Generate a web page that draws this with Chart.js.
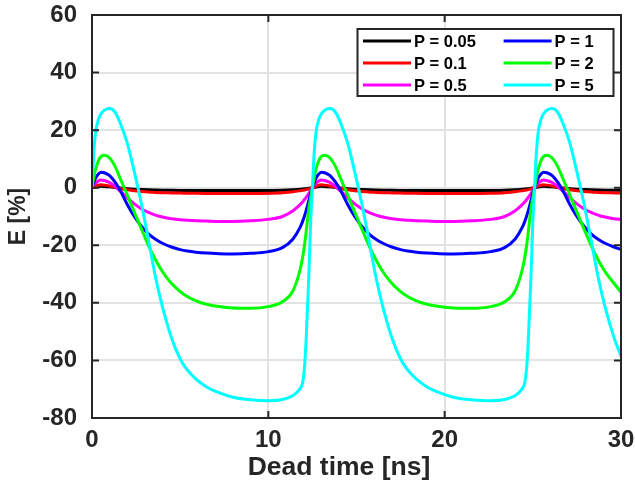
<!DOCTYPE html>
<html><head><meta charset="utf-8">
<script src="https://cdn.jsdelivr.net/npm/chart.js@4.4.1/dist/chart.umd.min.js"></script>
<style>html,body{margin:0;padding:0;background:#fff;}canvas{display:block;}</style>
</head><body>
<canvas id="c" width="635" height="489"></canvas>
<script>
// Dead time [ns]
const deadTime = [
  0, 0.1, 0.2, 0.35, 0.5, 0.7, 1.0, 1.3, 1.6, 2.0, 2.4, 2.8, 3.2, 3.6, 4.0, 4.5, 5.0, 5.4, 5.9, 6.5, 7.2, 8.0, 9.0, 10.0, 10.8, 11.4, 11.8, 11.95, 12.05, 12.15, 12.3, 12.4,
  12.5, 12.6, 12.7, 12.85, 13.0, 13.2, 13.5, 13.8, 14.1, 14.5, 14.9, 15.3, 15.7, 16.1, 16.5, 17.0, 17.5, 17.9, 18.4, 19.0, 19.7, 20.5, 21.5, 22.6, 23.4, 24.0, 24.4, 24.55, 24.65, 24.75, 24.9, 25.0,
  25.1, 25.2, 25.3, 25.45, 25.6, 25.8, 26.1, 26.4, 26.7, 27.1, 27.5, 27.9, 28.3, 28.7, 29.1, 29.6, 30
];
// E [%] for each P
const eP005 = [
  0, 0.15, 0.28, 0.42, 0.5, 0.45, 0.3, 0.1, -0.12, -0.35, -0.52, -0.65, -0.75, -0.81, -0.86, -0.9, -0.93, -0.95, -0.97, -0.99, -1.0, -1.0, -1.0, -0.95, -0.86, -0.7, -0.52, -0.45, -0.39, -0.32, -0.2, -0.1,
  0, 0.15, 0.28, 0.42, 0.5, 0.45, 0.3, 0.1, -0.12, -0.35, -0.52, -0.65, -0.75, -0.81, -0.86, -0.9, -0.93, -0.95, -0.97, -0.99, -1.0, -1.0, -1.0, -0.95, -0.86, -0.7, -0.52, -0.45, -0.39, -0.32, -0.2, -0.1,
  0, 0.15, 0.28, 0.42, 0.5, 0.45, 0.3, 0.1, -0.12, -0.35, -0.52, -0.65, -0.75, -0.81, -0.86, -0.9, -0.93
];
const eP01 = [
  0, 0.3, 0.55, 0.85, 1.0, 0.9, 0.6, 0.2, -0.25, -0.7, -1.05, -1.3, -1.5, -1.62, -1.72, -1.8, -1.87, -1.9, -1.95, -1.98, -2.0, -2.0, -2.0, -1.9, -1.72, -1.4, -1.05, -0.9, -0.78, -0.65, -0.4, -0.2,
  0, 0.3, 0.55, 0.85, 1.0, 0.9, 0.6, 0.2, -0.25, -0.7, -1.05, -1.3, -1.5, -1.62, -1.72, -1.8, -1.87, -1.9, -1.95, -1.98, -2.0, -2.0, -2.0, -1.9, -1.72, -1.4, -1.05, -0.9, -0.78, -0.65, -0.4, -0.2,
  0, 0.3, 0.55, 0.85, 1.0, 0.9, 0.6, 0.2, -0.25, -0.7, -1.05, -1.3, -1.5, -1.62, -1.72, -1.8, -1.86
];
const eP05 = [
  0, 0.9, 1.6, 2.3, 2.7, 2.5, 1.8, 0.5, -1.2, -3.5, -5.6, -7.3, -8.6, -9.5, -10.2, -10.8, -11.1, -11.3, -11.5, -11.6, -11.7, -11.7, -11.5, -11.0, -10.0, -8.0, -5.9, -4.9, -4.1, -3.3, -1.9, -0.9,
  0, 0.9, 1.6, 2.3, 2.7, 2.5, 1.8, 0.5, -1.2, -3.5, -5.6, -7.3, -8.6, -9.5, -10.2, -10.8, -11.1, -11.3, -11.5, -11.6, -11.7, -11.7, -11.5, -11.0, -10.0, -8.0, -5.9, -4.9, -4.1, -3.3, -1.9, -0.9,
  0, 0.9, 1.6, 2.3, 2.7, 2.5, 1.8, 0.5, -1.2, -3.5, -5.6, -7.3, -8.6, -9.5, -10.2, -10.8, -11.0
];
const eP1 = [
  0, 1.8, 3.3, 4.7, 5.4, 5.2, 4.2, 2.0, -1.0, -5.8, -10.0, -13.4, -16.0, -17.9, -19.3, -20.6, -21.5, -22.0, -22.4, -22.7, -22.9, -23.0, -22.8, -22.2, -20.8, -17.8, -13.8, -11.6, -9.8, -7.8, -4.3, -2.0,
  0, 1.8, 3.3, 4.7, 5.4, 5.2, 4.2, 2.0, -1.0, -5.8, -10.0, -13.4, -16.0, -17.9, -19.3, -20.6, -21.5, -22.0, -22.4, -22.7, -22.9, -23.0, -22.8, -22.2, -20.8, -17.8, -13.8, -11.6, -9.8, -7.8, -4.3, -2.0,
  0, 1.8, 3.3, 4.7, 5.4, 5.2, 4.2, 2.0, -1.0, -5.8, -10.0, -13.4, -16.0, -17.9, -19.3, -20.6, -21.4
];
const eP2 = [
  0, 3.6, 6.3, 9.2, 10.8, 11.3, 10.3, 7.5, 3.2, -2.5, -8.5, -14.3, -20.0, -25.0, -29.2, -33.2, -36.1, -37.8, -39.3, -40.5, -41.3, -41.8, -41.9, -41.3, -39.6, -35.8, -28.5, -24.0, -20.0, -15.0, -7.0, -3.5,
  0, 3.6, 6.3, 9.2, 10.8, 11.3, 10.3, 7.5, 3.2, -2.5, -8.5, -14.3, -20.0, -25.0, -29.2, -33.2, -36.1, -37.8, -39.3, -40.5, -41.3, -41.8, -41.9, -41.3, -39.6, -35.8, -28.5, -24.0, -20.0, -15.0, -7.0, -3.5,
  0, 3.6, 6.3, 9.2, 10.8, 11.3, 10.3, 7.5, 3.2, -2.5, -8.5, -14.3, -20.0, -25.0, -29.2, -33.2, -36.3
];
const eP5 = [
  0, 12, 19, 23.5, 25.6, 26.9, 27.5, 26.3, 22.5, 15.5, 5.5, -5.5, -18, -31, -41.5, -52, -59.5, -63.3, -66.5, -69.2, -71.2, -72.8, -73.7, -74, -73.6, -72.2, -69.8, -67.6, -62.5, -52, -30, -12,
  0, 12, 19, 23.5, 25.6, 26.9, 27.5, 26.3, 22.5, 15.5, 5.5, -5.5, -18, -31, -41.5, -52, -59.5, -63.3, -66.5, -69.2, -71.2, -72.8, -73.7, -74, -73.6, -72.2, -69.8, -67.6, -62.5, -52, -30, -12,
  0, 12, 19, 23.5, 25.6, 26.9, 27.5, 26.3, 22.5, 15.5, 5.5, -5.5, -18, -31, -41.5, -52, -58.5
];
const seriesLabels = ['P = 0.05', 'P = 0.1', 'P = 0.5', 'P = 1', 'P = 2', 'P = 5'];
const xTicks = [0, 10, 20, 30];
const yTicks = [-80, -60, -40, -20, 0, 20, 40, 60];
const xTitle = 'Dead time [ns]';
const yTitle = 'E [%]';

const seriesValues = [eP005, eP01, eP05, eP1, eP2, eP5];
const colors = ['#000000', '#ff0000', '#ff00ff', '#0000ff', '#00ff00', '#00ffff'];
const FONT = '"Liberation Sans", Arial, Helvetica, sans-serif';
const AX = '#262626';

const datasets = seriesValues.map((vals, i) => ({
  label: seriesLabels[i],
  data: vals.map((v, k) => ({ x: deadTime[k], y: v })),
  borderColor: colors[i],
  backgroundColor: colors[i],
  borderWidth: 3,
  pointRadius: 0,
  showLine: true,
  fill: false,
  cubicInterpolationMode: 'monotone',
  order: seriesValues.length - i
}));

const matlabFrame = {
  id: 'matlabFrame',
  afterDatasetsDraw(chart) {
    const { ctx, chartArea: a, scales: { x, y } } = chart;
    ctx.save();
    ctx.strokeStyle = AX;
    ctx.lineWidth = 2;
    const tl = 7;
    ctx.beginPath();
    x.ticks.forEach(t => {
      const px = x.getPixelForValue(t.value);
      ctx.moveTo(px, a.bottom); ctx.lineTo(px, a.bottom - tl);
      ctx.moveTo(px, a.top); ctx.lineTo(px, a.top + tl);
    });
    y.ticks.forEach(t => {
      const py = y.getPixelForValue(t.value);
      ctx.moveTo(a.left, py); ctx.lineTo(a.left + tl, py);
      ctx.moveTo(a.right, py); ctx.lineTo(a.right - tl, py);
    });
    ctx.stroke();
    ctx.strokeRect(a.left, a.top, a.right - a.left, a.bottom - a.top);

    // x-axis title
    ctx.fillStyle = AX;
    ctx.font = 'bold 26.5px ' + FONT;
    ctx.textAlign = 'center';
    ctx.textBaseline = 'middle';
    ctx.fillText(xTitle, a.left + 247, a.bottom + 50);

    // legend (two columns, three rows)
    const bw = 256, bh = 67;
    const bx = a.right - 263.5, by = a.top + 14;
    ctx.fillStyle = '#ffffff';
    ctx.fillRect(bx, by, bw, bh);
    ctx.strokeStyle = AX;
    ctx.lineWidth = 2;
    ctx.strokeRect(bx, by, bw, bh);
    ctx.font = 'bold 16.5px ' + FONT;
    ctx.textBaseline = 'middle';
    ctx.textAlign = 'left';
    chart.data.datasets.forEach((ds, i) => {
      const col = Math.floor(i / 3), row = i % 3;
      const lx = bx + 5.5 + col * 140.6;
      const ly = by + 12 + row * 22;
      ctx.strokeStyle = ds.borderColor;
      ctx.lineWidth = 3;
      ctx.beginPath();
      ctx.moveTo(lx, ly); ctx.lineTo(lx + 48, ly);
      ctx.stroke();
      ctx.fillStyle = '#000000';
      ctx.fillText(ds.label, lx + 51, ly + 1);
    });
    ctx.restore();
  }
};

new Chart(document.getElementById('c'), {
  type: 'scatter',
  data: { datasets },
  options: {
    responsive: false,
    animation: false,
    events: [],
    layout: { padding: { top: 15, right: 14, left: 0, bottom: 0 } },
    plugins: { legend: { display: false }, tooltip: { enabled: false } },
    scales: {
      x: {
        type: 'linear', min: 0, max: 30,
        afterBuildTicks: s => { s.ticks = xTicks.map(v => ({ value: v })); },
        grid: { color: '#e2e2e2', lineWidth: 2, drawTicks: false },
        border: { display: false },
        ticks: { font: { family: FONT, weight: 'bold', size: 24 }, color: AX, padding: 8, maxRotation: 0 },
        title: { display: false },
        afterFit: s => { s.height = 71; s.paddingLeft = 0; s.paddingRight = 0; }
      },
      y: {
        type: 'linear', min: -80, max: 60,
        afterBuildTicks: s => { s.ticks = yTicks.map(v => ({ value: v })); },
        grid: { color: '#e2e2e2', lineWidth: 2, drawTicks: false },
        border: { display: false },
        ticks: { font: { family: FONT, weight: 'bold', size: 24 }, color: AX, padding: 15 },
        title: { display: true, text: yTitle, color: AX,
                 font: { family: FONT, weight: 'bold', size: 23 }, padding: { top: 5, bottom: 0 } },
        afterFit: s => { s.width = 92; s.paddingTop = 0; s.paddingBottom = 0; }
      }
    }
  },
  plugins: [matlabFrame]
});
</script>
</body></html>
